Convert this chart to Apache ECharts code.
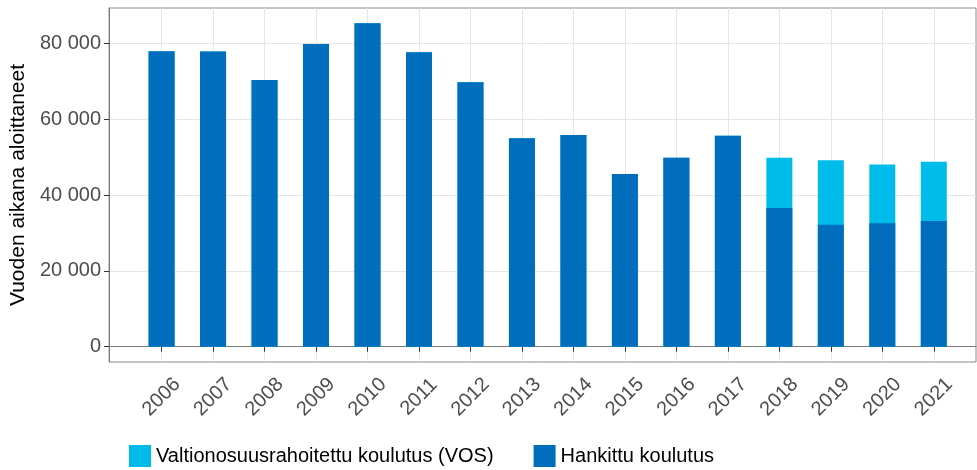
<!DOCTYPE html>
<html>
<head>
<meta charset="utf-8">
<script src="https://cdn.jsdelivr.net/npm/echarts@6/dist/echarts.min.js"></script>
<style>
  html, body { margin: 0; padding: 0; background: #fff; }
  #chart { width: 977px; height: 470px; }
</style>
</head>
<body>
<div id="chart"></div>
<script>
const years = [2006, 2007, 2008, 2009, 2010, 2011, 2012, 2013, 2014, 2015, 2016, 2017, 2018, 2019, 2020, 2021]
const hankittu = [78000, 77900, 70400, 79900, 85400, 77700, 69800, 55000, 55900, 45600, 49900, 55700, 36600, 32200, 32600, 33200]
const vos = [0, 0, 0, 0, 0, 0, 0, 0, 0, 0, 0, 0, 13300, 17000, 15500, 15600]
const yTicks = [0, 20000, 40000, 60000, 80000]

const fmt = v => String(v).replace(/\B(?=(\d{3})+(?!\d))/g, ' ')

const chart = echarts.init(document.getElementById('chart'))
chart.setOption({
  animation: false,
  textStyle: { fontFamily: 'Liberation Sans, Arial, sans-serif' },
  grid: {
    left: 109,
    right: 1,
    top: 8,
    bottom: 108,
    show: true,
    borderColor: '#8a8a8a',
    borderWidth: 1
  },
  legend: {
    left: 124,
    top: 440,
    itemWidth: 22,
    itemHeight: 22,
    itemGap: 40,
    icon: 'rect',
    textStyle: { fontSize: 20, color: '#000' },
    data: ['Valtionosuusrahoitettu koulutus (VOS)', 'Hankittu koulutus']
  },
  xAxis: {
    type: 'value',
    min: 2004.98,
    max: 2021.82,
    axisLine: { lineStyle: { color: '#7a7a7a' } },
    axisTick: { customValues: years, length: 5, lineStyle: { color: '#333' } },
    axisLabel: {
      customValues: years,
      rotate: 45,
      align: 'center',
      verticalAlign: 'middle',
      margin: 35,
      fontSize: 20,
      color: '#4d4d4d',
      formatter: v => String(v)
    },
    splitLine: { show: true, lineStyle: { color: '#e6e6e6' } }
  },
  yAxis: {
    type: 'value',
    min: -4040,
    max: 89400,
    name: 'Vuoden aikana aloittaneet',
    nameLocation: 'middle',
    nameGap: 76,
    nameTextStyle: { fontSize: 21, color: '#000' },
    axisLine: { show: true, lineStyle: { color: '#7a7a7a' } },
    axisTick: { show: true, customValues: yTicks, length: 5, lineStyle: { color: '#333' } },
    axisLabel: {
      customValues: yTicks,
      margin: 8,
      fontSize: 20,
      color: '#4d4d4d',
      formatter: v => fmt(v)
    },
    splitLine: { show: true, lineStyle: { color: '#e6e6e6' } }
  },
  series: [
    {
      // total height (VOS sits on top of Hankittu), drawn behind
      name: 'Valtionosuusrahoitettu koulutus (VOS)',
      type: 'bar',
      barWidth: 26,
      barGap: '-100%',
      itemStyle: { color: '#00BCEB' },
      data: years.map((y, i) => [y, hankittu[i] + vos[i]])
    },
    {
      name: 'Hankittu koulutus',
      type: 'bar',
      barWidth: 26,
      barGap: '-100%',
      z: 3,
      itemStyle: { color: '#006EBD' },
      data: years.map((y, i) => [y, hankittu[i]])
    }
  ]
})
</script>
</body>
</html>
